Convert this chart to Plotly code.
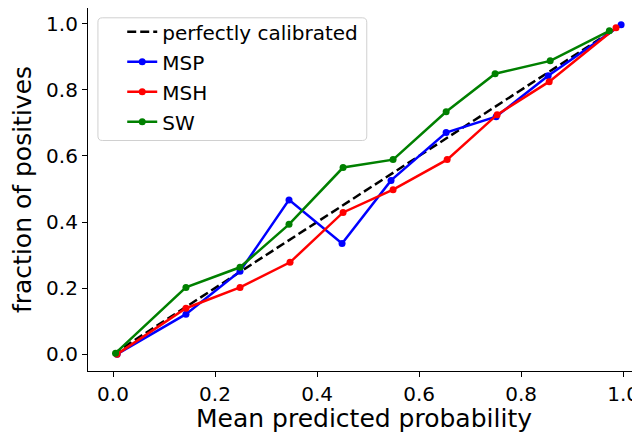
import plotly.graph_objects as go

# perfectly calibrated reference
ref_x = [0.0, 1.0]
ref_y = [0.0, 1.0]

# MSP
msp_x = [0.008, 0.143, 0.249, 0.345, 0.449, 0.545, 0.653, 0.751, 0.853, 0.996]
msp_y = [0.0, 0.121, 0.251, 0.467, 0.335, 0.526, 0.671, 0.719, 0.843, 0.997]

# MSH
msh_x = [0.008, 0.143, 0.249, 0.347, 0.451, 0.549, 0.655, 0.753, 0.855, 0.986]
msh_y = [0.0, 0.139, 0.202, 0.278, 0.429, 0.498, 0.589, 0.725, 0.825, 0.988]

# SW
sw_x = [0.005, 0.143, 0.249, 0.345, 0.451, 0.549, 0.653, 0.749, 0.857, 0.973]
sw_y = [0.003, 0.202, 0.263, 0.393, 0.565, 0.589, 0.734, 0.849, 0.888, 0.979]

x_ticks = [0.0, 0.2, 0.4, 0.6, 0.8, 1.0]
y_ticks = [0.0, 0.2, 0.4, 0.6, 0.8, 1.0]

FONT = "DejaVu Sans"

fig = go.Figure()

fig.add_trace(go.Scatter(
    x=ref_x, y=ref_y, mode='lines', name='perfectly calibrated',
    line=dict(color='black', width=2.5, dash='9px,4px'), legendgroup='ref'
))

for name, xs, ys, color in [
    ('MSP', msp_x, msp_y, 'blue'),
    ('MSH', msh_x, msh_y, 'red'),
    ('SW', sw_x, sw_y, 'green'),
]:
    fig.add_trace(go.Scatter(
        x=xs, y=ys, mode='lines+markers', name=name,
        line=dict(color=color, width=2.5),
        marker=dict(color=color, size=7), legendgroup=name
    ))

# legend frame (matplotlib style, rounded corners)
x0, x1, y0, y1, r = 0.018, 0.505, 0.635, 0.973, 0.008
ry = r * 552 / 363
frame = (f"M {x0 + r},{y1} L {x1 - r},{y1} Q {x1},{y1} {x1},{y1 - ry} "
         f"L {x1},{y0 + ry} Q {x1},{y0} {x1 - r},{y0} L {x0 + r},{y0} "
         f"Q {x0},{y0} {x0},{y0 + ry} L {x0},{y1 - ry} Q {x0},{y1} {x0 + r},{y1} Z")

# page body has an 8px margin, so the figure is sized to the remaining viewport
fig.update_layout(
    width=632, height=425,
    margin=dict(l=80, r=0, t=0, b=62),
    paper_bgcolor='white', plot_bgcolor='white',
    font=dict(family=FONT, color='black', size=19),
    showlegend=True,
    legend=dict(
        x=0.062, y=0.988, xanchor='left', yanchor='top',
        bgcolor='rgba(0,0,0,0)', borderwidth=0, tracegroupgap=1,
        font=dict(family=FONT, size=20, color='black'),
    ),
    shapes=[dict(type='path', path=frame, xref='paper', yref='paper',
                 line=dict(color='#d0d0d0', width=1),
                 fillcolor='rgba(255,255,255,0.8)', layer='below')],
)

fig.update_xaxes(
    range=[-0.049, 1.033], tickvals=x_ticks, ticktext=[f'{v:.1f}' for v in x_ticks],
    showgrid=False, zeroline=False, showline=True, linecolor='black', linewidth=1.2,
    mirror=True, ticks='outside', ticklen=5, tickcolor='black', automargin=False,
    tickfont=dict(size=20),
    title=dict(text='Mean predicted probability', font=dict(size=25)),
)
fig.update_yaxes(
    range=[-0.051, 1.048], tickvals=y_ticks, ticktext=[f'{v:.1f}' for v in y_ticks],
    showgrid=False, zeroline=False, showline=True, linecolor='black', linewidth=1.2,
    ticks='outside', ticklen=5, tickcolor='black', automargin=False,
    tickfont=dict(size=20),
    title=dict(text='fraction of positives', font=dict(size=25)),
)

fig.write_html("out.html")
